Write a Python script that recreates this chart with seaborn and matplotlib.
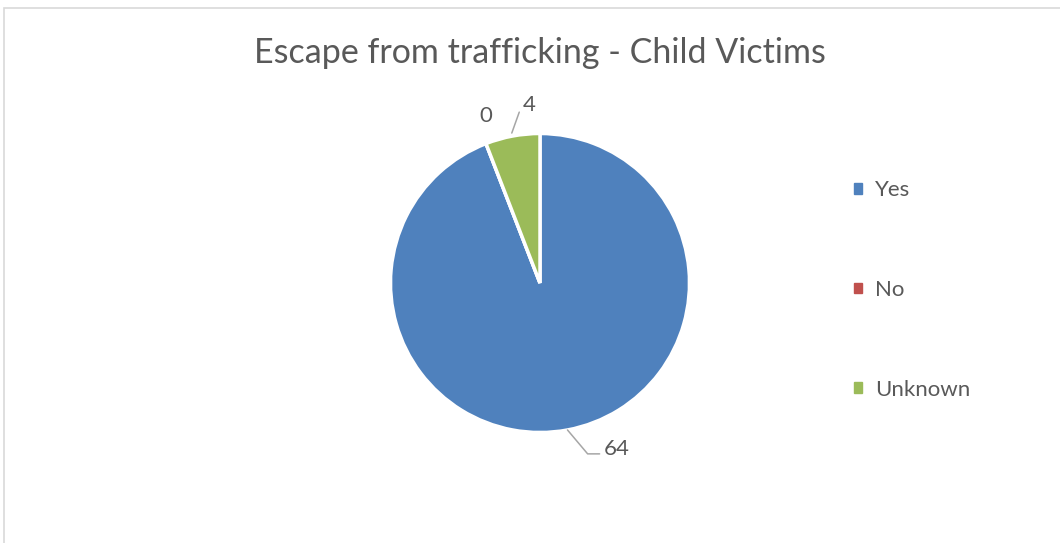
import numpy as np
import matplotlib
matplotlib.use("Agg")
import matplotlib.pyplot as plt
import seaborn as sns
from matplotlib.patches import Rectangle, Patch

# data
categories = ["Yes", "No", "Unknown"]
counts = [64, 0, 4]
colors = ["#4F81BD", "#C0504D", "#9BBB59"]

sns.set_theme(style="white")
plt.rcParams["font.family"] = ["Lato", "DejaVu Sans"]
text_color = "#595959"

fig = plt.figure(figsize=(10.6, 5.43), dpi=100)
fig.patch.set_facecolor("white")

# chart frame (runs off the right and bottom of the image)
fig.patches.append(Rectangle((4 / 1060, -0.05), 1.1, 1 - 8 / 543 + 0.05,
                             transform=fig.transFigure, fill=False,
                             edgecolor="#D9D9D9", linewidth=1.2))

# pie axes: centre (540, 283) px, radius ~149 px
r_px = 149.5
half = 1.5 * r_px
ax = fig.add_axes([(540 - half) / 1060, (543 - 283 - half) / 543,
                   2 * half / 1060, 2 * half / 543])
wedges, _ = ax.pie(counts, colors=colors, startangle=90, counterclock=False,
                   wedgeprops=dict(edgecolor="white", linewidth=2.5))
ax.set_xlim(-1.5, 1.5)
ax.set_ylim(-1.5, 1.5)
ax.set_aspect("equal")
ax.axis("off")

leader = dict(color="#A6A6A6", linewidth=1.1)
lbl = dict(fontsize=16, color=text_color)

# data labels with Excel-style leader lines
def edge_point(w):
    a = np.deg2rad((w.theta1 + w.theta2) / 2)
    return np.cos(a), np.sin(a)

# Yes (64)
x0, y0 = edge_point(wedges[0])
ex, ey = x0 + 0.135, y0 - 0.16
ax.plot([x0, ex, ex + 0.08], [y0, ey, ey], **leader)
ax.text(ex + 0.11, ey + 0.03, str(counts[0]), ha="left", va="center", **lbl)

# No (0)
x1, y1 = edge_point(wedges[1])
ax.text(x1 + 0.0, y1 + 0.185, str(counts[1]), ha="center", va="center", **lbl)

# Unknown (4)
x2, y2 = edge_point(wedges[2])
ax.plot([x2 - 0.005, x2 + 0.045], [y2 + 0.02, y2 + 0.16], **leader)
ax.text(x2 + 0.11, y2 + 0.21, str(counts[2]), ha="center", va="center", **lbl)

fig.text(540 / 1060, 1 - 53 / 543, "Escape from trafficking - Child Victims",
         ha="center", va="center", fontsize=24.5, color=text_color)

handles = [Patch(facecolor=c, edgecolor=c) for c in colors]
fig.legend(handles, categories, loc="center left",
           bbox_to_anchor=(834 / 1060, 1 - 290 / 543), frameon=False,
           fontsize=16, labelcolor=text_color, handlelength=0.36,
           handleheight=0.36, handletextpad=0.6, labelspacing=3.58)

plt.savefig("out.png", dpi=100)
